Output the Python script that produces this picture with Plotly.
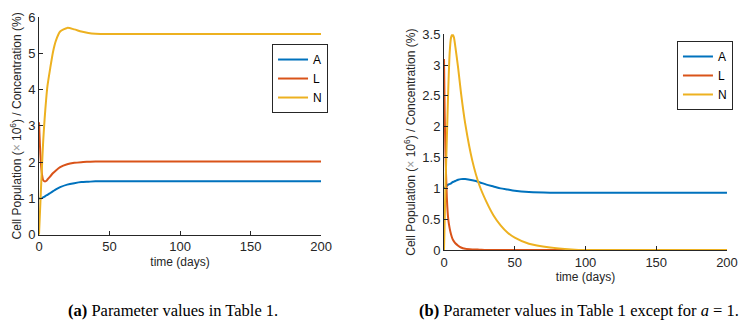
import plotly.graph_objects as go

# (a) parameter values in Table 1
t_a = [0, 1, 2, 3, 4, 5, 6, 8, 10, 12, 15, 20, 25, 30, 35, 40, 50, 60, 80, 120, 160, 200]
A_a = [1.0, 1.0, 1.01, 1.03, 1.05, 1.08, 1.1, 1.15, 1.2, 1.25, 1.31, 1.38, 1.42, 1.45, 1.46, 1.47, 1.47, 1.47, 1.47, 1.47, 1.47, 1.47]
L_a = [3.1, 2.2, 1.7, 1.5, 1.47, 1.48, 1.52, 1.61, 1.7, 1.77, 1.86, 1.94, 1.98, 2.0, 2.01, 2.02, 2.02, 2.02, 2.02, 2.02, 2.02, 2.02]
N_a = [0, 0.9, 1.8, 2.6, 3.2, 3.7, 4.1, 4.6, 5.05, 5.35, 5.6, 5.7, 5.66, 5.6, 5.56, 5.54, 5.53, 5.53, 5.53, 5.53, 5.53, 5.53]

# (b) parameter values in Table 1 except for a = 1
t_b = [0, 0.5, 1, 2, 3, 4, 5, 6, 7, 8, 10, 12, 15, 20, 25, 30, 35, 40, 45, 50, 60, 75, 90, 100, 120, 160, 200]
A_b = [1.0, 1.01, 1.02, 1.04, 1.06, 1.07, 1.08, 1.1, 1.11, 1.12, 1.14, 1.15, 1.15, 1.13, 1.1, 1.06, 1.03, 1.0, 0.98, 0.96, 0.94, 0.93, 0.93, 0.93, 0.93, 0.93, 0.93]
L_b = [3.1, 2.2, 1.6, 0.85, 0.5, 0.35, 0.25, 0.18, 0.14, 0.11, 0.07, 0.04, 0.02, 0.01, 0.005, 0, 0, 0, 0, 0, 0, 0, 0, 0, 0, 0, 0]
N_b = [0, 0.5, 1.0, 1.8, 2.6, 3.2, 3.45, 3.5, 3.45, 3.3, 2.95, 2.55, 2.05, 1.45, 1.05, 0.78, 0.56, 0.4, 0.28, 0.2, 0.1, 0.04, 0.01, 0.0, 0, 0, 0]

names = ["A", "L", "N"]
colors = ["#0072BD", "#D95319", "#EDB120"]

fig = go.Figure()

for name, c, y in zip(names, colors, [A_a, L_a, N_a]):
    fig.add_trace(go.Scatter(x=t_a, y=y, name=name, mode="lines", line=dict(color=c, width=2, shape="spline", smoothing=0.6),
                             xaxis="x", yaxis="y", legend="legend"))
for name, c, y in zip(names, colors, [A_b, L_b, N_b]):
    fig.add_trace(go.Scatter(x=t_b, y=y, name=name, mode="lines", line=dict(color=c, width=2, shape="spline", smoothing=0.6),
                             xaxis="x2", yaxis="y2", legend="legend2"))

font = dict(family="Liberation Sans, Arial, sans-serif", size=13, color="#262626")
title_font = dict(family="Liberation Sans, Arial, sans-serif", size=12, color="#262626")
ytitle = "Cell Population (<span style='color:#999'>×</span> 10<sup>6</sup>) / Concentration (%)"

axis_common = dict(showline=True, linecolor="#262626", linewidth=1, ticks="inside", ticklen=4,
                   tickcolor="#262626", showgrid=False, zeroline=False, tickfont=font, automargin=False)

legend_common = dict(bordercolor="#262626", borderwidth=1, bgcolor="white",
                     font=dict(family=font["family"], size=12, color="black"),
                     xref="paper", yref="paper", xanchor="left", yanchor="top",
                     itemwidth=30, tracegroupgap=0)

# page has an 8px body margin, so the figure is sized and placed for that
fig.update_layout(
    width=740, height=316,
    margin=dict(l=0, r=0, t=0, b=0),
    paper_bgcolor="white", plot_bgcolor="white",
    font=font,
    xaxis=dict(domain=[0.0419, 0.4230], range=[0, 200], tickvals=[0, 50, 100, 150, 200], anchor="y",
               title=dict(text="time (days)", font=title_font, standoff=4), **axis_common),
    yaxis=dict(domain=[0.2826, 0.9715], range=[0, 6], tickvals=[0, 1, 2, 3, 4, 5, 6], anchor="x",
               title=dict(text=ytitle, font=title_font, standoff=4), **axis_common),
    xaxis2=dict(domain=[0.5892, 0.9716], range=[0, 200], tickvals=[0, 50, 100, 150, 200], anchor="y2",
                title=dict(text="time (days)", font=title_font, standoff=4), **axis_common),
    yaxis2=dict(domain=[0.2342, 0.9168], range=[0, 3.5], tickvals=[0, 0.5, 1, 1.5, 2, 2.5, 3, 3.5], anchor="x2",
                title=dict(text=ytitle, font=title_font, standoff=4), **axis_common),
    legend=dict(x=0.3568, y=0.886, **legend_common),
    legend2=dict(x=0.904, y=0.8956, **legend_common),
    showlegend=True,
)

cap_font = dict(family="Liberation Serif, Times New Roman, serif", size=16.5, color="black")
fig.add_annotation(text="<b>(a)</b> Parameter values in Table 1.", x=0.223, y=0.0443,
                   xref="paper", yref="paper", showarrow=False, font=cap_font, xanchor="center", yanchor="middle")
fig.add_annotation(text="<b>(b)</b> Parameter values in Table 1 except for <i>a</i> = 1.", x=0.7716, y=0.0443,
                   xref="paper", yref="paper", showarrow=False, font=cap_font, xanchor="center", yanchor="middle")

fig.write_html("out.html")
